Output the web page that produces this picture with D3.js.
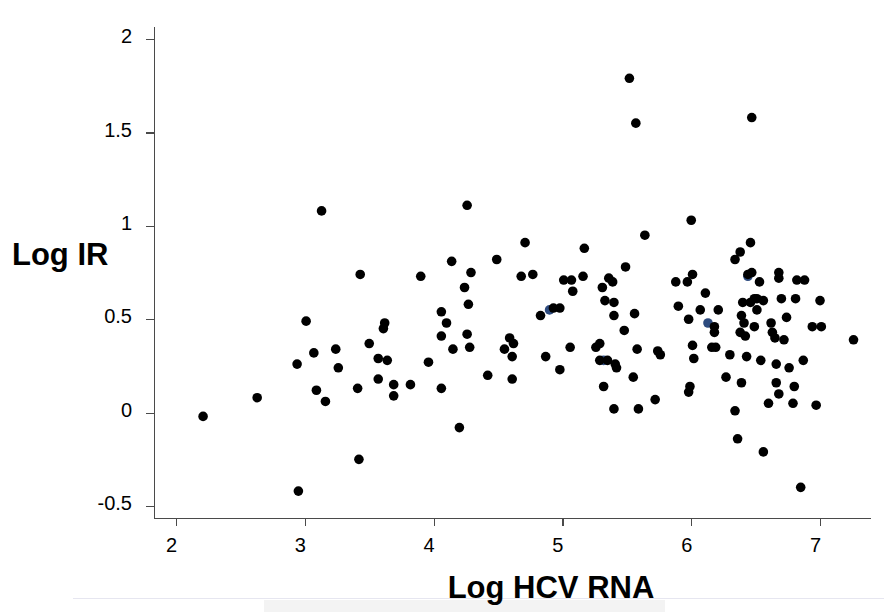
<!DOCTYPE html>
<html>
<head>
<meta charset="utf-8">
<script src="https://cdn.jsdelivr.net/npm/d3@7"></script>
<style>
  html, body { margin: 0; padding: 0; background: #fff; }
  svg { display: block; }
  .axis path, .axis line { stroke: #4a4a4a; stroke-width: 1.2; shape-rendering: crispEdges; }
  .axis text { font-family: Arial, 'Liberation Sans', sans-serif; font-size: 20px; fill: #000; }
  .axis-title { font-family: Arial, 'Liberation Sans', sans-serif; font-size: 31px; font-weight: bold; fill: #000; }
</style>
</head>
<body>
<div id="chart"></div>
<script>
// ========== Data ==========
// Log HCV RNA (x) vs Log IR (y)
const logHcvRna = [
  3.13, 3.43, 3.01, 3.62, 3.61, 3.50, 3.07, 3.24, 2.94, 3.26, 3.57, 3.64, 3.57, 3.69, 3.69, 3.41,
  3.09, 3.16, 2.63, 2.21, 3.42, 2.95,
  4.26, 4.71, 5.17, 4.14, 4.49, 4.29, 3.90, 4.24, 4.68, 4.77, 5.01, 5.07, 5.16, 5.08, 5.49, 5.36,
  5.39, 5.31, 4.27, 4.06, 4.10, 4.06, 4.26, 4.15, 4.28, 4.93, 4.98, 4.83, 5.33, 5.40, 5.40, 5.56,
  5.48, 4.59, 4.62, 4.55, 4.61, 4.87, 5.06, 5.29, 5.26, 5.58, 4.98, 5.29, 5.35, 5.41, 5.42, 5.55,
  5.32, 5.40, 5.59, 3.96, 4.42, 4.61, 3.82, 4.06, 4.20,
  6.00, 5.64, 6.46, 6.38, 6.34, 6.44, 6.47, 6.53, 5.88, 5.97, 6.01, 6.11, 5.90, 6.07, 6.21, 5.98,
  6.18, 6.18, 6.40, 6.46, 6.49, 6.51, 6.56, 6.51, 6.39, 6.41, 6.49, 6.38, 6.42, 5.74, 5.76, 6.01,
  6.02, 6.16, 6.19, 6.30, 6.43, 6.54, 6.27, 6.39, 5.99, 5.98, 5.72, 6.34, 6.36,
  6.68, 6.68, 6.82, 6.88, 7.00, 6.70, 6.81, 6.74, 6.62, 6.63, 6.65, 6.72, 6.94, 7.01, 7.26, 6.66,
  6.76, 6.87, 6.66, 6.80, 6.68, 6.60, 6.79, 6.97, 6.56, 6.85,
  5.52, 5.57, 6.47
];
const logIr = [
  1.08, 0.74, 0.49, 0.48, 0.45, 0.37, 0.32, 0.34, 0.26, 0.24, 0.29, 0.28, 0.18, 0.15, 0.09, 0.13,
  0.12, 0.06, 0.08, -0.02, -0.25, -0.42,
  1.11, 0.91, 0.88, 0.81, 0.82, 0.75, 0.73, 0.67, 0.73, 0.74, 0.71, 0.71, 0.73, 0.65, 0.78, 0.72,
  0.70, 0.67, 0.58, 0.54, 0.48, 0.41, 0.42, 0.34, 0.35, 0.56, 0.56, 0.52, 0.60, 0.59, 0.52, 0.53,
  0.44, 0.40, 0.37, 0.34, 0.30, 0.30, 0.35, 0.37, 0.35, 0.34, 0.23, 0.28, 0.28, 0.26, 0.24, 0.19,
  0.14, 0.02, 0.02, 0.27, 0.20, 0.18, 0.15, 0.13, -0.08,
  1.03, 0.95, 0.91, 0.86, 0.82, 0.74, 0.75, 0.70, 0.70, 0.70, 0.74, 0.64, 0.57, 0.55, 0.55, 0.50,
  0.46, 0.43, 0.59, 0.59, 0.61, 0.61, 0.60, 0.55, 0.52, 0.48, 0.46, 0.43, 0.41, 0.33, 0.31, 0.36,
  0.29, 0.35, 0.35, 0.31, 0.30, 0.28, 0.19, 0.16, 0.14, 0.11, 0.07, 0.01, -0.14,
  0.75, 0.72, 0.71, 0.71, 0.60, 0.61, 0.61, 0.51, 0.48, 0.43, 0.40, 0.39, 0.46, 0.46, 0.39, 0.26,
  0.24, 0.28, 0.16, 0.14, 0.10, 0.05, 0.05, 0.04, -0.21, -0.40,
  1.79, 1.55, 1.58
];

// a few dark blue points, mostly hidden under the black ones
const blueHcvRna = [4.90, 5.32, 6.13, 6.44];
const blueIr = [0.55, 0.28, 0.48, 0.73];

const xTicks = [2, 3, 4, 5, 6, 7];
const yTicks = [-0.5, 0, 0.5, 1, 1.5, 2];
const yTickLabels = ['-0.5', '0', '0.5', '1', '1.5', '2'];


// ========== Config ==========
const config = {
  width: 884,
  height: 612,
  plot: { left: 154, right: 870, top: 26, bottom: 518 },
  xDomain: [1.829, 7.388],
  yDomain: [-0.564, 2.07],
  radius: 4.8
};


// ========== SVG ==========
const svg = d3.select('#chart')
  .append('svg')
  .attr('width', config.width)
  .attr('height', config.height);

svg.append('rect')
  .attr('width', config.width)
  .attr('height', config.height)
  .attr('fill', '#fff');


// ========== Scales ==========
const x = d3.scaleLinear()
  .domain(config.xDomain)
  .range([config.plot.left, config.plot.right]);

const y = d3.scaleLinear()
  .domain(config.yDomain)
  .range([config.plot.bottom, config.plot.top]);


// ========== Axes ==========
const yAxis = svg.append('g')
  .attr('class', 'axis y')
  .attr('transform', `translate(${config.plot.left},0)`)
  .call(d3.axisLeft(y)
    .tickValues(yTicks)
    .tickFormat((d, i) => yTickLabels[i])
    .tickSize(8)
    .tickSizeOuter(0)
    .tickPadding(14));

yAxis.selectAll('text').attr('dy', '0.18em');

const xAxis = svg.append('g')
  .attr('class', 'axis x')
  .attr('transform', `translate(0,${config.plot.bottom})`)
  .call(d3.axisBottom(x)
    .tickValues(xTicks)
    .tickFormat(d3.format('d'))
    .tickSize(8)
    .tickSizeOuter(0)
    .tickPadding(12));

xAxis.selectAll('text').attr('dx', -5);


// ========== Points ==========
const blue = blueHcvRna.map((v, i) => ({ x: v, y: blueIr[i] }));
const points = logHcvRna.map((v, i) => ({ x: v, y: logIr[i] }));

svg.append('g')
  .selectAll('circle')
  .data(blue)
  .join('circle')
    .attr('cx', d => x(d.x))
    .attr('cy', d => y(d.y))
    .attr('r', config.radius)
    .attr('fill', '#2d4b7f');

svg.append('g')
  .selectAll('circle')
  .data(points)
  .join('circle')
    .attr('cx', d => x(d.x))
    .attr('cy', d => y(d.y))
    .attr('r', config.radius)
    .attr('fill', '#000');


// ========== Page remnants below the chart ==========
svg.append('line')
  .attr('x1', 73).attr('x2', config.width)
  .attr('y1', 598.5).attr('y2', 598.5)
  .attr('stroke', '#e6e6f0')
  .attr('stroke-width', 1);

svg.append('rect')
  .attr('x', 264).attr('y', 600)
  .attr('width', 401).attr('height', 12)
  .attr('fill', '#f3f3f3');


// ========== Titles ==========
svg.append('text')
  .attr('class', 'axis-title')
  .attr('x', 12)
  .attr('y', 265)
  .text('Log IR');

svg.append('text')
  .attr('class', 'axis-title')
  .attr('x', 551)
  .attr('y', 598)
  .attr('text-anchor', 'middle')
  .text('Log HCV RNA');
</script>
</body>
</html>
